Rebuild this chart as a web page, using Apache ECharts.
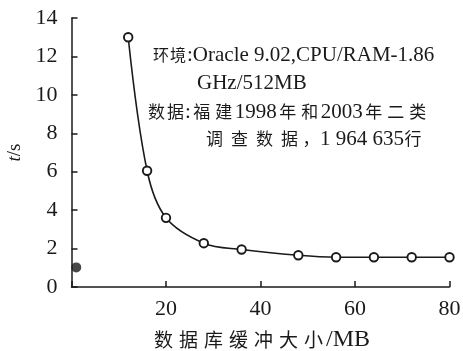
<!DOCTYPE html>
<html><head><meta charset="utf-8">
<script src="https://cdn.jsdelivr.net/npm/echarts@6/dist/echarts.min.js"></script>
<style>html,body{margin:0;padding:0;background:#fff}#c{width:463px;height:351px}</style>
</head><body><div id="c"></div>
<script>
const bufferSizes = [12, 16, 20, 28, 36, 48, 56, 64, 72, 80];
const times = [13, 6.05, 3.6, 2.28, 1.95, 1.65, 1.55, 1.55, 1.55, 1.55];
const baselinePoint = [1, 1.02];
const xTicks = [0, 20, 40, 60, 80];
const yTicks = [0, 2, 4, 6, 8, 10, 12, 14];
const xAxisTitle = ['数据库缓冲大小', '/MB'];
const noteLines = [
  [['c17', '环境'], ['l', ':Oracle 9.02,CPU/RAM-1.86']],
  [['l', 'GHz/512MB']],
  [['c20', '数据'], ['l', ':'], ['c22', '福建'], ['l', '1998'], ['c22', '年和'], ['l', '2003'], ['c22', '年二类']],
  [['c25', '调查数据'], ['cm', '，'], ['l', '1 964 635'], ['c18', '行']]
];

const SERIF = '"Liberation Serif", serif';
const CJK = '"Noto Sans CJK SC", sans-serif';
const INK = '#1a1a1a';

function richLine(parts) {
  return parts.map(([k, s]) => k === 'l' ? `{l|${s}}` : Array.from(s).map(ch => `{${k}|${ch}}`).join('')).join('');
}
const noteRich = {
  l: {fontFamily: SERIF, fontSize: 21, color: INK},
  c17: {fontFamily: CJK, fontSize: 16, width: 17, align: 'left', color: INK},
  c20: {fontFamily: CJK, fontSize: 17, width: 19, align: 'center', color: INK},
  c22: {fontFamily: CJK, fontSize: 17, width: 22, align: 'center', color: INK},
  c25: {fontFamily: CJK, fontSize: 17, width: 25, align: 'center', color: INK},
  c18: {fontFamily: CJK, fontSize: 17, width: 18, align: 'center', color: INK},
  cm: {fontFamily: CJK, fontSize: 17, width: 18, align: 'left', color: INK}
};

const chart = echarts.init(document.getElementById('c'));
chart.setOption({
  animation: false,
  grid: {left: 71.5, right: 13.5, top: 18, bottom: 64, outerBoundsMode: 'none', containLabel: false},
  xAxis: {
    type: 'value', min: xTicks[0], max: xTicks[xTicks.length - 1], interval: xTicks[1] - xTicks[0],
    name: Array.from(xAxisTitle[0]).map(ch => `{c|${ch}}`).join('') + `{l|${xAxisTitle[1]}}`,
    nameLocation: 'middle', nameGap: 41,
    nameTextStyle: {color: INK, rich: {
      c: {fontFamily: CJK, fontSize: 19, width: 25, align: 'center', color: INK},
      l: {fontFamily: SERIF, fontSize: 24, color: INK}
    }},
    axisLine: {show: true, lineStyle: {color: INK, width: 1.5}},
    axisTick: {show: true, inside: true, length: 6, lineStyle: {color: INK, width: 1.5}},
    axisLabel: {fontFamily: SERIF, fontSize: 22, color: INK, margin: 11,
      formatter: v => (v === 0 ? '' : String(v))},
    splitLine: {show: false}
  },
  yAxis: {
    type: 'value', min: yTicks[0], max: yTicks[yTicks.length - 1], interval: yTicks[1] - yTicks[0],
    name: '{i|t}{n|/s}', nameLocation: 'middle', nameGap: 47, nameRotate: 90,
    nameTextStyle: {color: INK, rich: {
      i: {fontFamily: SERIF, fontStyle: 'italic', fontSize: 19, color: INK},
      n: {fontFamily: SERIF, fontSize: 19, color: INK}
    }},
    axisLine: {show: true, lineStyle: {color: INK, width: 1.5}},
    axisTick: {show: true, inside: true, length: 6, lineStyle: {color: INK, width: 1.5}},
    axisLabel: {fontFamily: SERIF, fontSize: 22, color: INK, margin: 14},
    splitLine: {show: false}
  },
  graphic: noteLines.map((parts, i) => ({
    type: 'text',
    x: [153, 197, 147, 202][i],
    y: [55, 83, 112, 139][i],
    style: {text: richLine(parts), rich: noteRich, verticalAlign: 'middle', fill: INK,
      font: '21px ' + SERIF}
  })),
  series: [
    {
      type: 'line', smooth: 0.35,
      data: bufferSizes.map((x, i) => [x, times[i]]),
      symbol: 'circle', symbolSize: 8.5,
      lineStyle: {color: INK, width: 1.6},
      itemStyle: {color: '#fff', borderColor: INK, borderWidth: 1.9}
    },
    {
      type: 'scatter', data: [baselinePoint],
      symbol: 'circle', symbolSize: 10,
      itemStyle: {color: INK}
    }
  ]
});
</script></body></html>
